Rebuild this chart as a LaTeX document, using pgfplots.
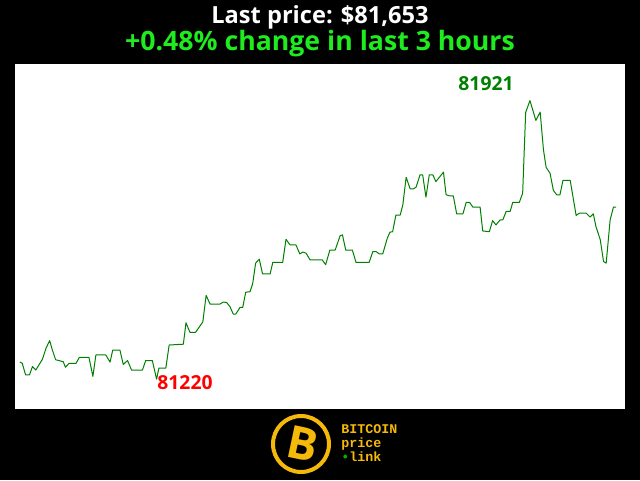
\documentclass[border=0pt]{standalone}
\usepackage{pgfplots}
\pgfplotsset{compat=1.18}
\usepackage{fontspec}
\setmainfont{Open Sans}
\newfontfamily\monofont{Liberation Mono}
\definecolor{linegreen}{RGB}{0,128,0}
\definecolor{titlegreen}{RGB}{30,236,30}
\definecolor{lowred}{RGB}{255,0,0}
\definecolor{btcyellow}{RGB}{245,185,10}
\begin{document}
\begin{tikzpicture}
\fill[black] (0,0) rectangle (480pt,360pt);
\begin{axis}[
  at={(11.25pt,53.25pt)}, anchor=south west,
  width=457.5pt, height=258.75pt, scale only axis,
  xmin=-1.5, xmax=183.3, ymin=81145, ymax=82013,
  axis line style={draw=none}, xtick=\empty, ytick=\empty,
  axis background/.style={fill=white},
  clip=false,
]
\addplot[linegreen, line width=0.75pt, line join=round] coordinates {
(0.0,81263) (0.7,81260) (1.7,81231) (2.9,81231) (3.8,81252) (4.8,81243)
(6.8,81270) (7.9,81298) (9.0,81317) (9.8,81294) (10.8,81269) (13.1,81264)
(13.8,81250) (14.9,81260) (17.0,81260) (18.0,81275) (20.9,81275) (22.1,81227)
(23.0,81281) (26.0,81281) (27.3,81263) (28.1,81293) (30.3,81293) (31.3,81257)
(32.6,81267) (33.8,81243) (37.1,81243) (38.1,81267) (40.1,81267) (41.4,81220)
(42.1,81248) (44.2,81248) (45.2,81306) (49.5,81308) (50.3,81362) (51.5,81338)
(53.2,81338) (55.4,81364) (56.4,81431) (57.6,81409) (60.6,81409) (61.6,81414)
(62.6,81413) (63.6,81403) (64.6,81384) (65.4,81384) (66.7,81401) (67.5,81401)
(68.4,81439) (69.7,81440) (70.5,81460) (71.4,81512) (72.5,81522) (73.5,81485)
(75.8,81485) (76.6,81514) (79.6,81514) (80.6,81572) (81.8,81558) (83.6,81558)
(84.8,81535) (85.7,81540) (86.7,81537) (87.9,81520) (91.6,81520) (92.6,81508)
(93.9,81545) (95.5,81545) (97.0,81581) (97.7,81583) (98.7,81545) (100.7,81545)
(101.8,81514) (105.8,81514) (106.9,81541) (107.9,81541) (108.9,81535) (109.9,81535)
(111.3,81575) (112.1,81590) (112.9,81591) (113.9,81633) (115.2,81633) (116.0,81659)
(117.0,81728) (118.2,81699) (119.2,81699) (120.0,81703) (121.2,81734) (122.0,81734)
(123.0,81678) (124.0,81734) (125.1,81734) (126.0,81717) (128.3,81741) (129.1,81684)
(130.3,81681) (131.3,81681) (132.3,81636) (134.2,81636) (135.2,81665) (136.2,81665)
(137.2,81653) (139.4,81653) (140.2,81593) (142.2,81591) (143.2,81619) (144.2,81608)
(145.5,81621) (146.3,81621) (147.3,81642) (148.5,81642) (149.3,81665) (151.3,81665)
(152.3,81688) (153.2,81891) (154.5,81921) (156.3,81871) (157.6,81892) (158.6,81797)
(159.4,81753) (160.6,81738) (161.6,81695) (162.6,81684) (163.6,81684) (164.5,81720)
(166.7,81720) (168.5,81632) (169.5,81638) (171.5,81638) (172.7,81628) (173.7,81636)
(174.5,81604) (175.8,81571) (176.8,81516) (177.6,81512) (178.8,81621) (179.8,81653)
(180.6,81653)
};
\node[text=linegreen, font=\bfseries\fontsize{14.5}{16}\selectfont] at (axis cs:141.2,81963) {81921};
\node[text=lowred, font=\bfseries\fontsize{14.5}{16}\selectfont] at (axis cs:50,81211) {81220};
\end{axis}
\node[text=white, font=\bfseries\fontsize{17.7}{20}\selectfont] at (240pt,347.25pt) {Last price: \$81,653};
\node[text=titlegreen, font=\bfseries\fontsize{20}{22}\selectfont] at (240pt,327pt) {+0.48\% change in last 3 hours};
% logo
\draw[btcyellow, line width=3pt] (225.75pt,27pt) circle (21pt);
\node[text=btcyellow, rotate=-12, font=\bfseries\fontsize{34}{36}\selectfont] at (227pt,27pt) {B};
\node[anchor=west, text=btcyellow, align=left, inner sep=0pt,
      font=\monofont\bfseries\fontsize{10}{10.5}\selectfont] at (255.75pt,27.75pt)
  {BITCOIN\\price\\{\color{green!70!black}•}link};
\end{tikzpicture}
\end{document}
